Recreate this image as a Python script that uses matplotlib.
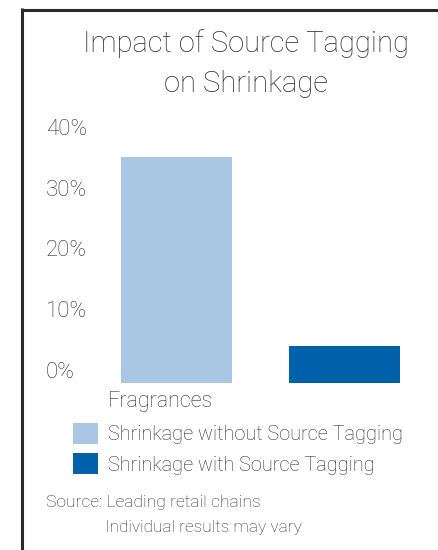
import matplotlib
matplotlib.use("Agg")
import matplotlib.pyplot as plt
import numpy as np
from matplotlib.lines import Line2D

plt.rcParams['font.family'] = ['Roboto', 'DejaVu Sans']
plt.rcParams['font.weight'] = 'light'

title = "Impact of Source Tagging\non Shrinkage"
category = "Fragrances"
series = ["Shrinkage without Source Tagging", "Shrinkage with Source Tagging"]
values = [35, 4]
colors = ["#a9c6e4", "#0061ab"]
yticks = [0, 10, 20, 30, 40]
ytick_labels = ["0%", "10%", "20%", "30%", "40%"]
source_lines = ["Source: Leading retail chains", "Individual results may vary"]

W, H = 439, 550
fig = plt.figure(figsize=(W / 100, H / 100), dpi=100)
txt = "#2e2e2e"

def px(x, y):
    return x / W, 1 - y / H

# axes occupying px x 110..420, y 127..383
ax = fig.add_axes([110 / W, (H - 383) / H, 310 / W, 256 / H])
y0 = -2.14
ax.set_ylim(y0, 40)
ax.set_xlim(-0.396, 1.449)
x = np.arange(len(values))
bars = ax.bar(x, np.array(values) - y0, bottom=y0, width=0.66, color=colors)

ax.set_yticks(yticks)
ax.set_yticklabels(ytick_labels, fontsize=16, color=txt, ha='left')
ax.tick_params(axis='y', length=0, pad=(110 - 46) * 0.72)
ax.set_xticks([])
for s in ax.spines.values():
    s.set_visible(False)

fig.text(*px(160, 406.7), category, ha='center', va='baseline', fontsize=15.5, color=txt)

for i, line in enumerate(title.split("\n")):
    fig.text(*px(246, 51.7 + 40 * i), line, ha='center', va='baseline', fontsize=21,
             color=txt)

leg = fig.legend(bars, series, loc='upper left', bbox_to_anchor=px(73, 423),
                 frameon=False, fontsize=14.4, handlelength=1.25, handleheight=1.25,
                 handletextpad=0.5, labelspacing=0.45, borderpad=0, borderaxespad=0)
for t in leg.get_texts():
    t.set_color(txt)

fig.text(*px(46, 506.7), source_lines[0], ha='left', va='baseline', fontsize=12.6, color=txt)
fig.text(*px(105, 531.7), source_lines[1], ha='left', va='baseline', fontsize=12.4, color=txt)

# frame lines
fig.add_artist(Line2D([22.5 / W, 22.5 / W], [1 - 8 / H, 0], color="#2a2a2a", lw=2.2,
                      transform=fig.transFigure, solid_capstyle='butt'))
fig.add_artist(Line2D([21 / W, 1], [1 - 9.5 / H, 1 - 9.5 / H], color="#2a2a2a", lw=2.2,
                      transform=fig.transFigure, solid_capstyle='butt'))

fig.savefig("out.png", dpi=100)
